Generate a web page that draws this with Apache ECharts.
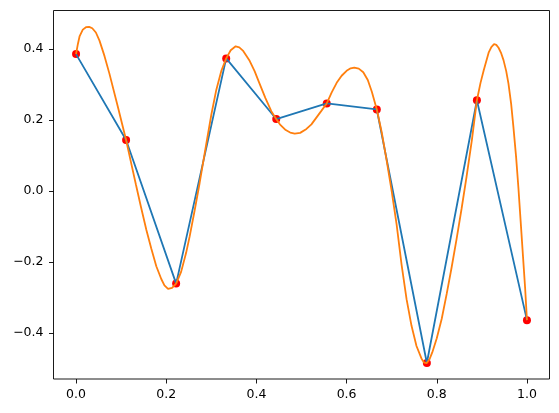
<!DOCTYPE html>
<html>
<head>
<meta charset="utf-8">
<script src="https://cdn.jsdelivr.net/npm/echarts@6/dist/echarts.min.js"></script>
<style>
  html, body { margin: 0; padding: 0; background: #fff; }
  #chart { width: 559px; height: 413px; }
</style>
</head>
<body>
<div id="chart"></div>
<script>
// sample points (red dots + blue polyline)
const pointX = [0, 0.111, 0.222, 0.333, 0.444, 0.556, 0.667, 0.778, 0.889, 1.0]
const pointY = [0.386, 0.144, -0.261, 0.374, 0.203, 0.247, 0.230, -0.485, 0.256, -0.364]

// orange curve
const curveX = [
  0.000, 0.004, 0.008, 0.015, 0.022, 0.029, 0.036, 0.044, 0.052, 0.063,
  0.074, 0.092, 0.111, 0.122, 0.133, 0.144, 0.156, 0.167, 0.178, 0.189,
  0.196, 0.204, 0.213, 0.222, 0.233, 0.244, 0.252, 0.263, 0.274, 0.289,
  0.300, 0.311, 0.322, 0.333, 0.343, 0.354, 0.362, 0.370, 0.385, 0.396,
  0.407, 0.420, 0.433, 0.444, 0.452, 0.465, 0.475, 0.485, 0.497, 0.511,
  0.522, 0.533, 0.544, 0.556, 0.567, 0.578, 0.589, 0.600, 0.609, 0.617,
  0.627, 0.637, 0.647, 0.656, 0.667, 0.678, 0.689, 0.700, 0.711, 0.722,
  0.733, 0.744, 0.755, 0.766, 0.772, 0.775, 0.778, 0.784, 0.790, 0.800,
  0.811, 0.822, 0.833, 0.844, 0.855, 0.866, 0.878, 0.889, 0.897, 0.904,
  0.915, 0.921, 0.927, 0.932, 0.937, 0.943, 0.948, 0.954, 0.959, 0.965,
  0.970, 0.976, 0.981, 0.986, 0.991, 0.996, 1.000
]
const curveY = [
  0.386, 0.414, 0.437, 0.455, 0.462, 0.463, 0.459, 0.447, 0.424, 0.381,
  0.331, 0.241, 0.144, 0.080, 0.017, -0.045, -0.110, -0.163, -0.212, -0.248,
  -0.266, -0.276, -0.273, -0.261, -0.228, -0.175, -0.128, -0.055, 0.022, 0.134,
  0.215, 0.285, 0.338, 0.374, 0.397, 0.408, 0.405, 0.396, 0.367, 0.338,
  0.303, 0.262, 0.225, 0.203, 0.188, 0.172, 0.165, 0.162, 0.164, 0.175,
  0.188, 0.207, 0.226, 0.247, 0.278, 0.305, 0.325, 0.339, 0.346, 0.348,
  0.345, 0.335, 0.313, 0.280, 0.230, 0.165, 0.085, 0.000, -0.095, -0.208,
  -0.305, -0.380, -0.437, -0.472, -0.484, -0.487, -0.485, -0.474, -0.455, -0.415,
  -0.360, -0.290, -0.215, -0.135, -0.050, 0.040, 0.145, 0.256, 0.305, 0.340,
  0.390, 0.406, 0.414, 0.412, 0.404, 0.388, 0.369, 0.338, 0.303, 0.245,
  0.180, 0.095, 0.010, -0.085, -0.180, -0.275, -0.364
]

const xTicks = [0, 0.2, 0.4, 0.6, 0.8, 1.0]
const yTicks = [-0.4, -0.2, 0, 0.2, 0.4]

const fmt = v => (v < 0 ? '\u2212' + Math.abs(v).toFixed(1) : v.toFixed(1))

const chart = echarts.init(document.getElementById('chart'), null, { renderer: 'canvas' })

const points = pointX.map((x, i) => [x, pointY[i]])
const curve = curveX.map((x, i) => [x, curveY[i]])

const axisCommon = {
  type: 'value',
  splitLine: { show: false },
  axisLine: { show: false, onZero: false },
  axisTick: { show: true, length: 4.5, inside: false, lineStyle: { color: '#000', width: 0.9 } },
  axisLabel: {
    color: '#000',
    fontFamily: 'DejaVu Sans',
    fontSize: 12.5,
    formatter: fmt
  }
}

const option = {
  animation: false,
  backgroundColor: '#fff',
  grid: {
    left: 53.5,
    right: 9.5,
    top: 10.5,
    bottom: 34,
    show: true,
    borderColor: '#000',
    borderWidth: 0.9,
    backgroundColor: 'transparent'
  },
  xAxis: Object.assign({}, axisCommon, {
    min: -0.05,
    max: 1.05,
    axisTick: Object.assign({}, axisCommon.axisTick, { customValues: xTicks }),
    axisLabel: Object.assign({}, axisCommon.axisLabel, { customValues: xTicks, margin: 9 })
  }),
  yAxis: Object.assign({}, axisCommon, {
    min: -0.53,
    max: 0.509,
    axisTick: Object.assign({}, axisCommon.axisTick, { customValues: yTicks }),
    axisLabel: Object.assign({}, axisCommon.axisLabel, { customValues: yTicks, margin: 10 })
  }),
  series: [
    {
      type: 'scatter',
      data: points,
      symbol: 'circle',
      symbolSize: 8,
      itemStyle: { color: '#ff0000', opacity: 1 },
      z: 1
    },
    {
      type: 'line',
      data: points,
      showSymbol: false,
      lineStyle: { color: '#1f77b4', width: 1.8 },
      z: 2
    },
    {
      type: 'line',
      data: curve,
      showSymbol: false,
      lineStyle: { color: '#ff7f0e', width: 1.8 },
      z: 3
    }
  ]
}

chart.setOption(option)
</script>
</body>
</html>
